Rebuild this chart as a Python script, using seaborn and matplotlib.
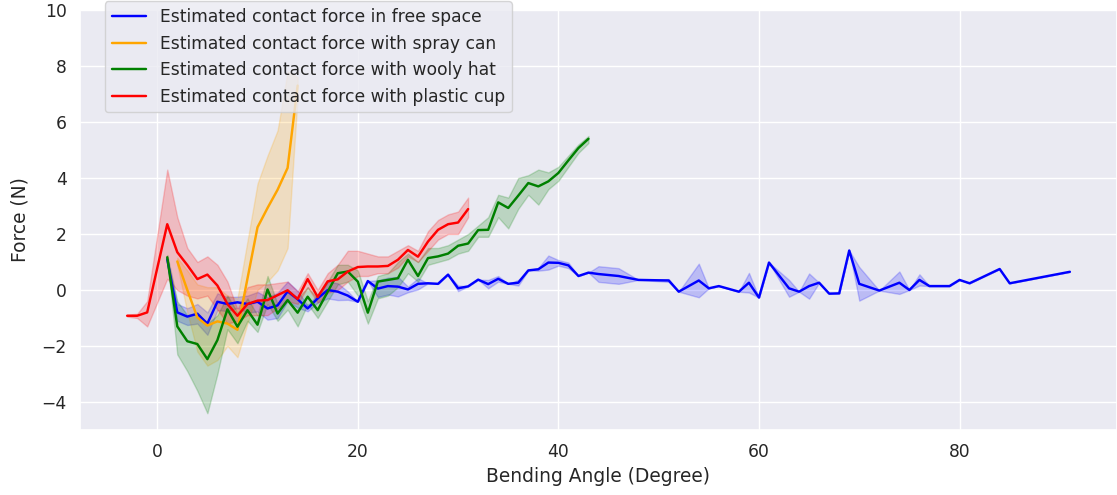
import numpy as np
import pandas as pd
import matplotlib
matplotlib.use("Agg")
import matplotlib.pyplot as plt
import seaborn as sns

# Free space: bending angle, mean force, half-width of the spread
free_x = [1, 2, 3, 4, 5, 6, 7, 8, 9, 10, 11, 12, 13, 14, 15, 16, 17, 18, 19, 20,
          21, 22, 23, 24, 25, 26, 27, 28, 29, 30, 31, 32, 33, 34, 35, 36, 37, 38, 39, 40,
          41, 42, 43, 44, 46, 48, 51, 52, 54, 55, 56, 58, 59, 60, 61, 63, 64, 65, 66, 67,
          68, 69, 70, 72, 74, 75, 76, 77, 79, 80, 81, 84, 85, 91]
free_y = [1.1, -0.8, -0.95, -0.85, -1.2, -0.42, -0.5, -0.44, -0.5, -0.42,
          -0.66, -0.55, -0.05, -0.33, -0.66, -0.3, 0.0, -0.06, -0.2, -0.42,
          0.32, 0.05, 0.14, 0.12, 0.02, 0.22, 0.24, 0.22, 0.55, 0.06,
          0.13, 0.37, 0.21, 0.4, 0.22, 0.26, 0.7, 0.74, 0.98, 0.97,
          0.88, 0.5, 0.62, 0.57, 0.5, 0.36, 0.34, -0.06, 0.34, 0.06,
          0.14, -0.06, 0.26, -0.27, 0.98, 0.06, -0.06, 0.14, 0.26, -0.13,
          -0.12, 1.41, 0.22, -0.02, 0.26, 0.0, 0.36, 0.14, 0.14, 0.36,
          0.24, 0.75, 0.24, 0.65]
free_spread = [0, 0.3, 0.3, 0.35, 0.4, 0.3, 0.25, 0.2, 0.3, 0.35,
               0.4, 0.45, 0.35, 0.3, 0.1, 0.15, 0.3, 0.3, 0.15, 0,
               0, 0.3, 0.3, 0.35, 0.1, 0.2, 0, 0, 0, 0.1,
               0, 0, 0.15, 0.1, 0, 0.1, 0, 0.05, 0.25, 0.1,
               0.1, 0, 0, 0.28, 0.28, 0, 0.05, 0, 0.6, 0,
               0, 0, 0.35, 0, 0, 0.3, 0, 0.45, 0, 0,
               0, 0, 0.6, 0, 0.4, 0, 0.2, 0, 0, 0,
               0, 0, 0, 0]

# Spray can
spray_x = [2, 3, 4, 5, 6, 7, 8, 10, 11, 12, 13, 14]
spray_y = [1.02, 0.0, -0.98, -1.27, -1.12, -1.2, -1.42, 2.24, 2.93, 3.58, 4.36, 7.3]
spray_lo = [0.9, -0.8, -2.2, -2.7, -2.5, -2.0, -2.4, 0.0, 0.3, 0.7, 1.5, 6.9]
spray_hi = [1.15, 0.7, 0.2, 0.1, 0.1, -0.2, -0.3, 3.8, 4.8, 5.7, 7.8, 7.6]

# Wooly hat
hat_x = list(range(1, 44))
hat_y = [1.17, -1.3, -1.83, -1.93, -2.47, -1.79, -0.69, -1.31, -0.72, -1.24,
         0.02, -0.84, -0.36, -0.81, -0.24, -0.72, -0.06, 0.6, 0.66, 0.3,
         -0.81, 0.3, 0.36, 0.42, 1.08, 0.5, 1.14, 1.2, 1.3, 1.58,
         1.66, 2.14, 2.15, 3.13, 2.93, 3.37, 3.82, 3.7, 3.88, 4.18,
         4.63, 5.07, 5.4]
hat_lo = [1.1, -2.3, -2.9, -3.6, -4.4, -3.0, -1.4, -1.9, -1.1, -1.5,
          -0.5, -1.1, -0.7, -1.3, -0.5, -1.0, -0.4, 0.2, 0.3, -0.2,
          -1.2, -0.3, -0.2, 0.1, 0.6, 0.3, 0.9, 1.0, 1.1, 1.3,
          1.4, 1.9, 1.9, 2.6, 2.2, 2.9, 3.4, 3.05, 3.6, 3.9,
          4.4, 4.9, 5.25]
hat_hi = [1.25, -0.4, -0.9, -0.8, -1.2, -0.9, -0.2, -0.8, -0.3, -0.9,
          0.5, -0.5, 0.0, -0.3, 0.1, -0.3, 0.3, 0.9, 0.9, 0.7,
          -0.4, 0.5, 0.6, 1.0, 1.3, 1.0, 1.5, 1.5, 1.6, 1.8,
          2.0, 2.3, 2.6, 3.4, 3.3, 4.0, 4.1, 4.3, 4.2, 4.4,
          4.8, 5.2, 5.5]

# Plastic cup
cup_x = [-3, -2, -1, 1, 2, 3, 4, 5, 6, 7, 8, 9, 10, 11, 13, 14, 15, 16, 17, 18,
         19, 20, 21, 22, 23, 24, 25, 26, 27, 28, 29, 30, 31]
cup_y = [-0.92, -0.92, -0.8, 2.35, 1.35, 0.89, 0.39, 0.55, 0.16, -0.5,
         -0.92, -0.5, -0.38, -0.36, -0.01, -0.32, 0.39, -0.25, 0.31, 0.38,
         0.66, 0.82, 0.84, 0.84, 0.86, 1.08, 1.43, 1.19, 1.73, 2.15,
         2.35, 2.41, 2.89]
cup_lo = [-0.95, -1.0, -1.3, 0.4, 0.0, -0.2, -0.3, -0.2, -0.7, -1.2,
          -1.1, -0.9, -0.9, -0.9, -0.4, -0.5, 0.1, -0.45, -0.1, 0.0,
          0.3, 0.5, 0.5, 0.6, 0.6, 0.8, 1.2, 1.0, 1.4, 1.8,
          2.0, 2.0, 2.6]
cup_hi = [-0.88, -0.85, -0.4, 4.3, 2.6, 1.5, 1.0, 1.2, 0.9, 0.3,
          -0.7, 0.1, 0.2, 0.2, 0.3, -0.05, 0.6, 0.0, 0.6, 0.9,
          1.4, 1.4, 1.3, 1.2, 1.2, 1.4, 1.6, 1.4, 2.1, 2.5,
          2.7, 2.8, 3.3]


def trials(x, lo, mid, hi):
    """Long-form table with low / central / high readings at each angle."""
    x = np.asarray(x, float)
    return pd.DataFrame({
        "angle": np.concatenate([x, x, x]),
        "force": np.concatenate([np.asarray(lo, float),
                                 np.asarray(mid, float),
                                 np.asarray(hi, float)]),
    })


free_df = trials(free_x,
                 np.array(free_y) - np.array(free_spread),
                 free_y,
                 np.array(free_y) + np.array(free_spread))
spray_df = trials(spray_x, spray_lo, spray_y, spray_hi)
hat_df = trials(hat_x, hat_lo, hat_y, hat_hi)
cup_df = trials(cup_x, cup_lo, cup_y, cup_hi)

sns.set_theme(style="darkgrid", font_scale=1.12)

fig = plt.figure(figsize=(11.17, 4.95), dpi=100)
ax = fig.add_axes([80 / 1117, 65 / 495, 1037 / 1117, 420 / 495])

series = [
    (free_df, "blue", "Estimated contact force in free space"),
    (spray_df, "orange", "Estimated contact force with spray can"),
    (hat_df, "green", "Estimated contact force with wooly hat"),
    (cup_df, "red", "Estimated contact force with plastic cup"),
]
for df, color, label in series:
    sns.lineplot(data=df, x="angle", y="force", ax=ax, color=color, label=label,
                 estimator="median", errorbar=("pi", 100), linewidth=1.75)

ax.set_ylim(-5, 10)
ax.set_xlabel("Bending Angle (Degree)")
ax.set_ylabel("Force (N)", labelpad=9)
ax.legend(loc="upper left", bbox_to_anchor=(0.024, 1.021), borderaxespad=0,
          fontsize=12.3)

fig.savefig("out.png", dpi=100)
